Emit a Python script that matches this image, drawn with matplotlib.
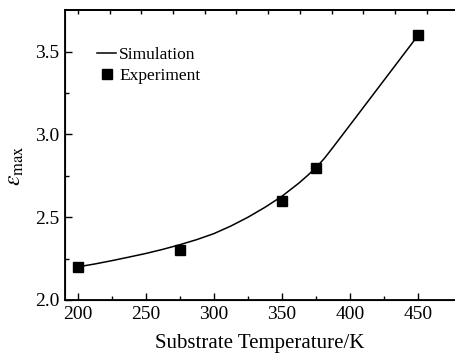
import matplotlib
matplotlib.use("Agg")
import matplotlib.pyplot as plt
import numpy as np

plt.rcParams['font.family'] = ['Liberation Serif', 'DejaVu Serif']
plt.rcParams['mathtext.fontset'] = 'stix'

# Experimental data
exp_T = [200, 275, 350, 375, 450]
exp_eps = [2.20, 2.30, 2.60, 2.80, 3.60]

# Simulation curve
sim_T = [200, 212.5, 225, 237.5, 250, 262.5, 275, 287.5, 300, 312.5, 325, 337.5,
         350, 362.5, 368.75, 375, 381.25, 387.5, 400, 425, 450]
sim_eps = [2.200, 2.2175, 2.2375, 2.259, 2.281, 2.306, 2.334, 2.365, 2.401, 2.447, 2.500, 2.560,
           2.627, 2.707, 2.752, 2.800, 2.857, 2.923, 3.058, 3.329, 3.600]

x_ticks = [200, 250, 300, 350, 400, 450]
y_ticks = [2.0, 2.5, 3.0, 3.5]

W, H = 455, 358
fig = plt.figure(figsize=(W / 100, H / 100), dpi=100)
ax = fig.add_axes([65 / W, 58 / H, 390 / W, 290 / H])

ax.plot(sim_T, sim_eps, color='black', lw=1.1, label='Simulation')
ax.plot(exp_T, exp_eps, ls='none', marker='s', ms=7, color='black', label='Experiment')

ax.set_xlim(190.7, 477)
ax.set_ylim(2.0, 3.752)
ax.set_xticks(x_ticks)
ax.set_yticks(y_ticks)
ax.set_yticklabels([f'{v:.1f}' for v in y_ticks])
ax.set_xticks([225, 275, 325, 375, 425], minor=True)
ax.set_yticks([2.25, 2.75, 3.25], minor=True)
ax.tick_params(which='major', direction='in', length=5, width=1, labelsize=14, pad=4)
ax.tick_params(which='minor', direction='in', length=3, width=1)
for s in ax.spines.values():
    s.set_linewidth(1.3)
ax.spines['right'].set_visible(False)

top = ax.twiny()
top.set_xlim(ax.get_xlim())
top.set_xticks(np.arange(200.2, 477, 23.27))
top.tick_params(axis='x', direction='in', length=3, width=1, labeltop=False)
top.spines['right'].set_visible(False)
top.spines['top'].set_linewidth(1.3)

ax.set_xlabel('Substrate Temperature/K', fontsize=15, labelpad=8)
ax.set_ylabel(r'$\varepsilon_{\rm max}$', fontsize=17)
ax.yaxis.set_label_coords(-0.10, 0.464)

leg = ax.legend(loc='upper left', bbox_to_anchor=(0.083, 0.872), frameon=False,
                fontsize=12.5, handlelength=1.1, handletextpad=0.15, labelspacing=0.24,
                borderaxespad=0, borderpad=0)

fig.savefig('out.png', dpi=100)
